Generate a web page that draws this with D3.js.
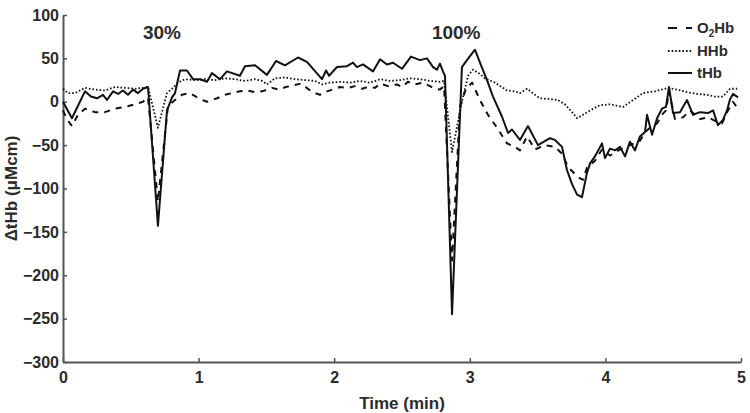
<!DOCTYPE html>
<html>
<head>
<meta charset="utf-8">
<script src="https://cdn.jsdelivr.net/npm/d3@7"></script>
<style>
  body { margin: 0; background: #fff; }
  svg text { font-family: Arial, "Liberation Sans", sans-serif; font-weight: bold; fill: #2b2b2b; }
</style>
</head>
<body>
<div id="chart"></div>
<script>
// tHb (solid)
const tHbTime = [0, 0.066, 0.162, 0.206, 0.251, 0.295, 0.324, 0.369, 0.406, 0.442, 0.479, 0.516, 0.553, 0.590, 0.627,
  0.700, 0.767, 0.804, 0.826, 0.863, 0.914, 0.959, 1.010, 1.062, 1.099, 1.158, 1.209, 1.305, 1.342, 1.416, 1.504,
  1.571, 1.637, 1.733, 1.799, 1.910, 1.940, 1.962, 2.021, 2.094, 2.139, 2.168, 2.212, 2.286, 2.338, 2.389, 2.434,
  2.500, 2.566, 2.633, 2.684, 2.729, 2.758, 2.780, 2.802, 2.817, 2.869, 2.942, 2.979, 3.038, 3.083, 3.127, 3.171,
  3.237, 3.282, 3.311, 3.370, 3.429, 3.503, 3.591, 3.628, 3.680, 3.717, 3.754, 3.791, 3.827, 3.864, 3.887, 3.923,
  3.975, 3.997, 4.034, 4.071, 4.108, 4.145, 4.181, 4.218, 4.255, 4.292, 4.307, 4.344, 4.381, 4.417, 4.447, 4.469,
  4.499, 4.550, 4.602, 4.646, 4.698, 4.757, 4.794, 4.830, 4.867, 4.897, 4.919, 4.941, 4.978];
const tHbValues = [0, -19, 12, 6, 4, 8, 2, 12, 9, 13, 8, 14, 10, 15, 17,
  -143, -10, 5, 10, 36, 36, 26, 26, 23, 33, 26, 35, 30, 41, 42, 31,
  47, 42, 51, 46, 26, 36, 30, 40, 41, 45, 40, 43, 35, 49, 43, 45,
  38, 52, 48, 50, 40, 37, 44, 35, 30, -245, 40, 48, 60, 42, 25, 6,
  -17, -36, -32, -44, -28, -50, -42, -44, -52, -79, -95, -107, -110, -82, -71, -63,
  -48, -65, -54, -56, -52, -63, -46, -56, -40, -35, -15, -38, -19, -8, -6, 17,
  -13, -12, 2, -15, -12, -13, -10, -27, -21, -10, 3, 9, 5];

// O2Hb (dashed)
const o2HbTime = [0, 0.029, 0.066, 0.111, 0.162, 0.236, 0.310, 0.383, 0.457, 0.531, 0.590, 0.627,
  0.700, 0.774, 0.826, 0.877, 0.936, 1.010, 1.062, 1.136, 1.195, 1.246, 1.305, 1.357, 1.416, 1.468, 1.541,
  1.593, 1.644, 1.703, 1.755, 1.814, 1.858, 1.895, 1.947, 2.006, 2.043, 2.102, 2.153, 2.205, 2.249, 2.301,
  2.338, 2.397, 2.463, 2.500, 2.544, 2.596, 2.655, 2.706, 2.743, 2.780, 2.810, 2.869, 2.928, 2.972, 3.017,
  3.075, 3.134, 3.201, 3.274, 3.333, 3.370, 3.422, 3.481, 3.555, 3.628, 3.680, 3.724, 3.798, 3.835, 3.864,
  3.923, 3.975, 4.034, 4.108, 4.181, 4.255, 4.292, 4.329, 4.381, 4.417, 4.447, 4.469, 4.513, 4.572, 4.624,
  4.698, 4.757, 4.808, 4.860, 4.904, 4.941, 4.978];
const o2HbValues = [-10, -20, -28, -15, -8, -12, -12, -8, -6, -3, 0, 5,
  -115, -5, 2, 8, 10, 3, 0, 4, 8, 10, 12, 13, 11, 12, 16,
  14, 17, 19, 21, 14, 10, 8, 12, 15, 17, 16, 18, 15, 17, 16,
  21, 18, 20, 17, 23, 20, 22, 18, 15, 14, 18, -183, -5, 15, 22, 2,
  -15, -30, -48, -52, -56, -40, -55, -50, -52, -60, -75, -87, -90, -76,
  -68, -55, -62, -55, -50, -45, -35, -30, -25, -15, -10, 12, -20, -18, -10,
  -20, -18, -22, -25, -10, 0, -8];

// HHb (dotted)
const hHbTime = [0, 0.037, 0.088, 0.162, 0.236, 0.310, 0.383, 0.457, 0.531, 0.590, 0.627,
  0.700, 0.767, 0.804, 0.848, 0.900, 0.973, 1.047, 1.121, 1.195, 1.268, 1.342, 1.416, 1.468, 1.504,
  1.563, 1.637, 1.711, 1.785, 1.858, 1.910, 1.969, 2.043, 2.116, 2.190, 2.264, 2.338, 2.412, 2.485,
  2.559, 2.633, 2.706, 2.780, 2.810, 2.869, 2.942, 2.987, 3.024, 3.075, 3.112, 3.186, 3.274, 3.333,
  3.370, 3.422, 3.481, 3.518, 3.591, 3.650, 3.702, 3.754, 3.791, 3.835, 3.887, 3.960, 4.034, 4.130,
  4.204, 4.277, 4.366, 4.462, 4.528, 4.602, 4.676, 4.749, 4.808, 4.867, 4.919, 4.971];
const hHbValues = [15, 10, 10, 16, 14, 13, 17, 16, 15, 16, 17,
  -30, 10, 15, 22, 26, 25, 26, 25, 27, 26, 24, 26, 24, 20,
  27, 28, 26, 25, 24, 20, 22, 23, 22, 24, 22, 26, 24, 25,
  27, 26, 24, 23, 24, -58, 0, 30, 37, 32, 27, 22, 13, 12,
  10, 15, 8, 4, 3, 2, -3, -12, -19, -15, -10, -4, -3, -6,
  2, 10, 12, 16, 14, 11, 9, 8, 6, 6, 15, 15];

const xTicks = [0, 1, 2, 3, 4, 5];
const yTicks = [100, 50, 0, -50, -100, -150, -200, -250, -300];

const legendItems = [
  { key: "o2hb", label: "O", sub: "2", rest: "Hb" },
  { key: "hhb", label: "HHb" },
  { key: "thb", label: "tHb" }
];

const annotations = [
  { text: "30%", t: 0.73, v: 80 },
  { text: "100%", t: 2.9, v: 80 }
];

const width = 750, height = 413;
const margin = { top: 15, right: 9, bottom: 51, left: 63 };

const svg = d3.select("#chart").append("svg")
  .attr("width", width)
  .attr("height", height);

const x = d3.scaleLinear().domain([0, 5]).range([margin.left, width - margin.right]);
const y = d3.scaleLinear().domain([-300, 100]).range([height - margin.bottom, margin.top]);

// Axes
const xAxis = svg.append("g")
  .attr("transform", `translate(0,${height - margin.bottom})`)
  .call(d3.axisBottom(x).tickValues(xTicks).tickFormat(d3.format("d"))
    .tickSizeInner(-4).tickSizeOuter(0).tickPadding(10));

const yAxis = svg.append("g")
  .attr("transform", `translate(${margin.left},0)`)
  .call(d3.axisLeft(y).tickValues(yTicks).tickFormat(d3.format("d"))
    .tickSizeInner(-4).tickSizeOuter(0).tickPadding(4));

[xAxis, yAxis].forEach(g => {
  g.select(".domain").attr("stroke", "#555").attr("stroke-width", 2);
  g.selectAll(".tick line").attr("stroke", "#555").attr("stroke-width", 1.5);
  g.selectAll(".tick text").style("font-size", "16px").attr("fill", "#2b2b2b");
});

// Axis titles
svg.append("text")
  .attr("x", (x(0) + x(5)) / 2)
  .attr("y", 409)
  .attr("text-anchor", "middle")
  .style("font-size", "17px")
  .text("Time (min)");

svg.append("text")
  .attr("transform", `translate(17,${(y(100) + y(-300)) / 2}) rotate(-90)`)
  .attr("text-anchor", "middle")
  .style("font-size", "17px")
  .text("ΔtHb (μMcm)");

// Lines
const line = d3.line().x(d => x(d[0])).y(d => y(d[1]));
const series = [
  { key: "o2hb", t: o2HbTime, v: o2HbValues, dash: "6,6" },
  { key: "hhb", t: hHbTime, v: hHbValues, dash: "1.6,2" },
  { key: "thb", t: tHbTime, v: tHbValues, dash: null }
];

series.forEach(s => {
  svg.append("path")
    .datum(d3.zip(s.t, s.v))
    .attr("fill", "none")
    .attr("stroke", "#111")
    .attr("stroke-width", s.key === "hhb" ? 1.8 : 2)
    .attr("stroke-linejoin", "round")
    .attr("stroke-dasharray", s.dash)
    .attr("d", line);
});

// Annotations
annotations.forEach(a => {
  svg.append("text")
    .attr("x", x(a.t))
    .attr("y", y(a.v))
    .attr("dy", "0.35em")
    .attr("text-anchor", "middle")
    .style("font-size", "19px")
    .text(a.text);
});

// Legend
const legendY = [28, 51, 73];
const legend = svg.append("g");
legendItems.forEach((item, i) => {
  const s = series.find(d => d.key === item.key);
  legend.append("line")
    .attr("x1", 668).attr("x2", 692)
    .attr("y1", legendY[i]).attr("y2", legendY[i])
    .attr("stroke", "#111")
    .attr("stroke-width", 2)
    .attr("stroke-dasharray", item.key === "o2hb" ? "9,9" : s.dash);
  const txt = legend.append("text")
    .attr("x", 697)
    .attr("y", legendY[i])
    .attr("dy", "0.35em")
    .style("font-size", "15px");
  if (item.sub) {
    txt.append("tspan").text(item.label);
    txt.append("tspan").attr("dy", "4").style("font-size", "10px").text(item.sub);
    txt.append("tspan").attr("dy", "-4").text(item.rest);
  } else {
    txt.text(item.label);
  }
});
</script>
</body>
</html>
